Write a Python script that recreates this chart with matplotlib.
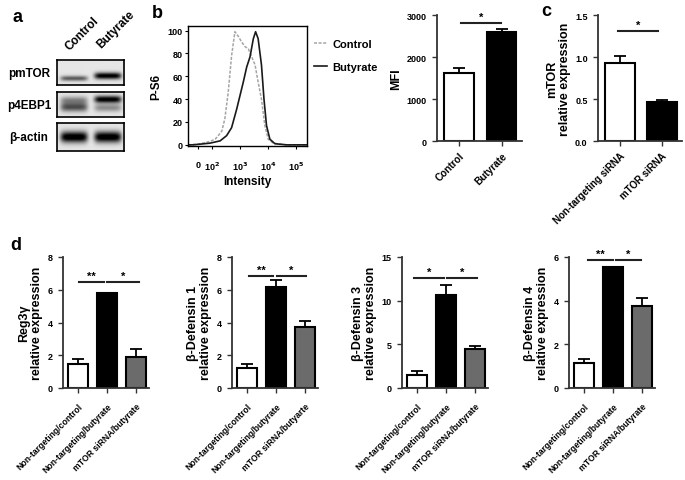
import numpy as np
import matplotlib
matplotlib.use("Agg")
import matplotlib.pyplot as plt

plt.rcParams['font.family'] = ['Liberation Sans', 'DejaVu Sans']
plt.rcParams['font.weight'] = 'bold'
plt.rcParams['axes.labelweight'] = 'bold'

# ---- data ----
blot_rows = ['pmTOR', 'p4EBP1', 'β-actin']
blot_lanes = ['Control', 'Butyrate']
# band darkness per row, per lane
blot_strength = [[0.55, 0.95], [0.6, 0.95], [1.0, 1.0]]

hist_legend = ['Control', 'Butyrate']
hist_ticks = [1.5, 2, 3, 4, 5]
hist_ticklabels = ['0', '10$^2$', '10$^3$', '10$^4$', '10$^5$']
# log10(intensity) vs % of max
ctrl_x = [1.15, 1.57, 1.93, 2.11, 2.17, 2.35, 2.46, 2.58, 2.70, 2.82, 2.94, 3.06,
          3.18, 3.30, 3.42, 3.54, 3.65, 3.77, 3.89, 4.01, 4.19, 4.67, 5.4]
ctrl_y = [0, 1, 3, 5, 6.5, 12, 23, 46, 78, 99, 95, 90,
          86, 84, 77, 70, 55, 40, 17, 5, 1.5, 0, 0]
buty_x = [1.15, 1.33, 1.93, 2.29, 2.52, 2.70, 2.88, 3.00, 3.12, 3.24, 3.36, 3.48,
          3.56, 3.65, 3.77, 3.86, 3.95, 4.07, 4.25, 4.67, 5.4]
buty_y = [0, 0, 1.5, 3.5, 8, 15, 31, 43, 55, 68, 77, 93,
          99, 93, 70, 40, 17, 5, 1, 0, 0]

mfi_groups = ['Control', 'Butyrate']
mfi_mean = [1630, 2590]
mfi_err = [100, 80]

c_groups = ['Non-targeting siRNA', 'mTOR siRNA']
mtor_mean = [0.93, 0.46]
mtor_err = [0.08, 0.03]

d_groups = ['Non-targeting/control', 'Non-targeting/butyrate', 'mTOR siRNA/butyrate']
d_groups_def1 = ['Non-targeting/control', 'Non-targeting/butyrate', 'mTOR siRNA/butyarte']
reg3g_mean = [1.45, 5.8, 1.9]
reg3g_err = [0.3, 0.0, 0.48]
def1_mean = [1.22, 6.15, 3.73]
def1_err = [0.25, 0.42, 0.35]
def3_mean = [1.5, 10.6, 4.45]
def3_err = [0.45, 1.2, 0.4]
def4_mean = [1.16, 5.56, 3.75]
def4_err = [0.15, 0.0, 0.35]

W, H = 685, 481
fig = plt.figure(figsize=(W / 100, H / 100), dpi=100)


def px_axes(x0, y0, x1, y1):
    return fig.add_axes([x0 / W, 1 - y1 / H, (x1 - x0) / W, (y1 - y0) / H])


def ftext(x, y, s, **kw):
    fig.text(x / W, 1 - y / H, s, **kw)


def style_axes(ax, xpad):
    for s in ['top', 'right']:
        ax.spines[s].set_visible(False)
    for s in ['left', 'bottom']:
        ax.spines[s].set_linewidth(1.3)
        ax.spines[s].set_color('#333333')
    ax.tick_params(length=3.5, width=1, colors='#333333', labelcolor='black')
    ax.tick_params(axis='y', pad=4, labelsize=6.5)
    ax.tick_params(axis='x', pad=xpad)


def bar_panel(ax, means, errs, colors, labels, ymax, yticks, ytlabels, ylabel, sigs, sig_y,
              xmax, xfs=6.8, xpad=2):
    x = np.arange(len(means))
    ax.bar(x, means, width=0.7, color=colors, edgecolor='black', linewidth=1.5, zorder=2)
    for xi, m, e in zip(x, means, errs):
        if e > 0:
            ax.errorbar(xi, m, yerr=[[0], [e]], ecolor='black', elinewidth=1.3,
                        capsize=4, capthick=1.3, zorder=1)
    ax.set_ylim(0, ymax)
    ax.set_xlim(-0.52, xmax)
    ax.set_yticks(yticks)
    ax.set_yticklabels(ytlabels)
    ax.set_xticks(x)
    ax.set_xticklabels(labels, rotation=45, ha='right', rotation_mode='anchor', fontsize=xfs)
    ax.set_ylabel(ylabel, fontsize=9, labelpad=3, linespacing=1.1)
    style_axes(ax, xpad)
    for (x0, x1, star) in sigs:
        ax.plot([x0, x1], [sig_y, sig_y], color='#222222', lw=1.5, clip_on=False)
        ax.text((x0 + x1) / 2, sig_y + ymax * 0.01, star, ha='center', va='bottom',
                fontsize=8)


# ---- panel a: western blot ----
ftext(12, 18, 'a', fontsize=13, fontweight='bold', va='center')
ftext(72, 53, blot_lanes[0], rotation=45, fontsize=8.5, ha='left', va='bottom', rotation_mode='anchor')
ftext(103, 51, blot_lanes[1], rotation=45, fontsize=8.5, ha='left', va='bottom', rotation_mode='anchor')
boxes = [(61, 86), (93, 118), (124, 152)]
# band vertical position (0 top, 1 bottom) and thickness per row & lane
band_pos = [[0.75, 0.65], [0.62, 0.32], [0.5, 0.5]]
band_thick = [[0.10, 0.13], [0.18, 0.14], [0.2, 0.2]]
yy, xx = np.mgrid[0:1:60j, 0:1:160j]
for r, (y0, y1) in enumerate(boxes):
    ax = px_axes(57, y0, 124, y1)
    img = np.full(xx.shape, 0.1)
    for lane, cx in enumerate([0.25, 0.75]):
        s = blot_strength[r][lane]
        img += s * np.exp(-((xx - cx) / 0.2) ** 6) * np.exp(-((yy - band_pos[r][lane]) / band_thick[r][lane]) ** 2)
    if r == 1:
        img += 0.35 * np.exp(-((xx - 0.25) / 0.2) ** 6) * np.exp(-((yy - 0.35) / 0.15) ** 2)
        img += 0.35 * np.exp(-((xx - 0.75) / 0.2) ** 6) * np.exp(-((yy - 0.65) / 0.15) ** 2)
    ax.imshow(np.clip(img, 0, 1), cmap='gray_r', vmin=0, vmax=1, aspect='auto',
              extent=[0, 1, 1, 0], interpolation='bilinear')
    ax.set_xticks([])
    ax.set_yticks([])
    for s in ax.spines.values():
        s.set_linewidth(1.2)
    ftext(29, (y0 + y1) / 2, blot_rows[r], fontsize=8.5, ha='center', va='center')

# ---- panel b: histogram ----
ftext(152, 14, 'b', fontsize=13, fontweight='bold', va='center')
axh = px_axes(188, 27, 307, 147)
axh.plot(ctrl_x, ctrl_y, color='#a5a5a5', lw=1.1, ls=(0, (2, 1)), label=hist_legend[0])
axh.plot(buty_x, buty_y, color='#1a1a1a', lw=1.2, label=hist_legend[1])
axh.set_xlim(1.14, 5.4)
axh.set_ylim(-1, 104)
axh.set_yticks([0, 20, 40, 60, 80, 100])
axh.set_xticks(hist_ticks)
axh.set_xticklabels(hist_ticklabels)
axh.tick_params(length=2, width=0.8, labelsize=6.5, pad=2)
axh.tick_params(axis='x', pad=8)
for s in axh.spines.values():
    s.set_linewidth(1.0)
axh.set_xlabel('Intensity', fontsize=8.5, labelpad=2)
axh.set_ylabel('P-S6', fontsize=8.5, labelpad=4)
axh.legend(loc='upper left', bbox_to_anchor=(1.02, 0.93), frameon=False, fontsize=8,
           handlelength=1.2, handletextpad=0.5, labelspacing=1.2, borderaxespad=0)

# ---- panel b: MFI ----
axm = px_axes(437, 16, 522, 142)
bar_panel(axm, mfi_mean, mfi_err, ['white', 'black'], mfi_groups, 3000,
          [0, 1000, 2000, 3000], ['0', '1000', '2000', '3000'], 'MFI',
          [(0.05, 0.98, '*')], 2810, 1.48, xfs=7.2, xpad=3)

# ---- panel c ----
ftext(541, 12, 'c', fontsize=13, fontweight='bold', va='center')
axc = px_axes(598, 16, 682, 142)
bar_panel(axc, mtor_mean, mtor_err, ['white', 'black'], c_groups, 1.5,
          [0, 0.5, 1.0, 1.5], ['0.0', '0.5', '1.0', '1.5'], 'mTOR\nrelative expression',
          [(-0.04, 0.9, '*')], 1.305, 1.48, xfs=7.0, xpad=3)

# ---- panel d ----
ftext(10, 246, 'd', fontsize=13, fontweight='bold', va='center')
d_cols = ['white', 'black', '#6b6b6b']
panels = [
    (63, reg3g_mean, reg3g_err, d_groups, 8, [0, 2, 4, 6, 8], 'Reg3γ\nrelative expression', 6.47,
     [(0.03, 0.9, '**'), (1.0, 2.09, '*')]),
    (232, def1_mean, def1_err, d_groups_def1, 8, [0, 2, 4, 6, 8], 'β-Defensin 1\nrelative expression', 6.85,
     [(0.05, 0.91, '**'), (1.02, 2.02, '*')]),
    (402, def3_mean, def3_err, d_groups, 15, [0, 5, 10, 15], 'β-Defensin 3\nrelative expression', 12.6,
     [(-0.1, 0.93, '*'), (1.03, 2.07, '*')]),
    (569, def4_mean, def4_err, d_groups, 6, [0, 2, 4, 6], 'β-Defensin 4\nrelative expression', 5.86,
     [(0.12, 1.0, '**'), (1.1, 1.95, '*')]),
]
for x0, m, e, labs, ymax, yt, ylab, sy, sigs in panels:
    ax = px_axes(x0, 258, x0 + 86, 389)
    bar_panel(ax, m, e, d_cols, labs, ymax, yt, [str(t) for t in yt], ylab, sigs, sy, 2.45,
              xfs=6.2, xpad=6)

fig.savefig('out.png', dpi=100)
